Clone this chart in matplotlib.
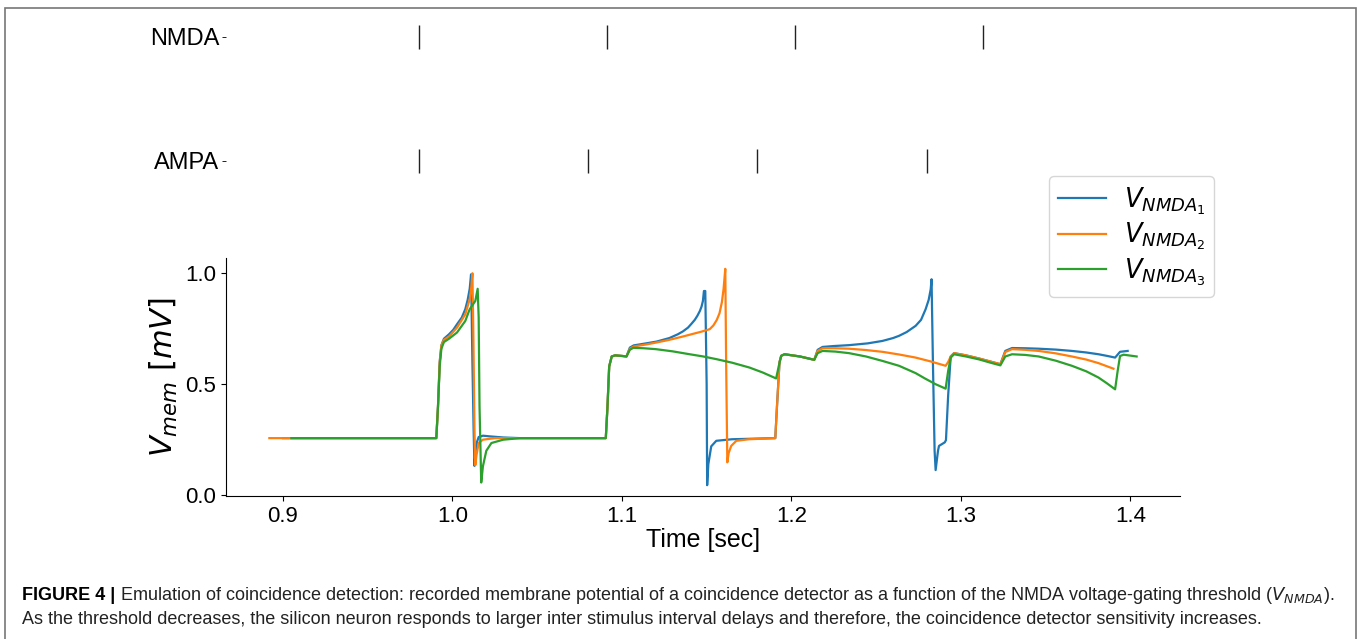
import matplotlib
matplotlib.use("Agg")
import matplotlib.pyplot as plt
from matplotlib.patches import Rectangle

# Stimulus times (sec)
nmda_events = [0.980, 1.091, 1.202, 1.313]
ampa_events = [0.980, 1.080, 1.180, 1.280]

# Membrane potential traces
t_1 = [0.900, 0.9905, 0.9915, 0.9925, 0.9935, 0.995, 0.998, 1.0005, 1.0027, 1.0055,
       1.0076, 1.009, 1.0102, 1.011, 1.0118, 1.0125, 1.013, 1.0135, 1.0145, 1.0155,
       1.018, 1.022, 1.030, 1.040, 1.0905, 1.0915, 1.0925, 1.094, 1.096, 1.1005,
       1.1027, 1.1047, 1.107, 1.115, 1.1204, 1.128, 1.133, 1.136, 1.139, 1.141,
       1.143, 1.1445, 1.146, 1.147, 1.1478, 1.1484, 1.1492, 1.1500, 1.1503, 1.151,
       1.1527, 1.1557, 1.165, 1.1905, 1.1915, 1.193, 1.194, 1.196, 1.205, 1.2135,
       1.2155, 1.2184, 1.225, 1.234, 1.245, 1.2537, 1.260, 1.2635, 1.268, 1.2733,
       1.2765, 1.2792, 1.281, 1.2822, 1.2827, 1.2835, 1.2845, 1.2851, 1.2865, 1.2871,
       1.2905, 1.2912, 1.2925, 1.294, 1.296, 1.303, 1.3106, 1.317, 1.3233, 1.3262,
       1.3302, 1.338, 1.3459, 1.356, 1.3655, 1.374, 1.3812, 1.386, 1.391, 1.3939,
       1.3984]
v_1 = [0.257, 0.257, 0.40, 0.60, 0.675, 0.705, 0.725, 0.745, 0.77, 0.80,
       0.838, 0.88, 0.93, 0.995, 0.60, 0.30, 0.132, 0.18, 0.24, 0.262,
       0.268, 0.265, 0.26, 0.257, 0.257, 0.40, 0.58, 0.625, 0.63, 0.627,
       0.625, 0.665, 0.675, 0.685, 0.692, 0.708, 0.725, 0.738, 0.755, 0.772,
       0.79, 0.808, 0.83, 0.85, 0.875, 0.92, 0.92, 0.50, 0.045, 0.14,
       0.22, 0.245, 0.252, 0.257, 0.40, 0.60, 0.628, 0.635, 0.625, 0.61,
       0.655, 0.668, 0.672, 0.676, 0.684, 0.695, 0.708, 0.718, 0.735, 0.763,
       0.79, 0.838, 0.88, 0.928, 0.973, 0.60, 0.20, 0.113, 0.20, 0.222,
       0.238, 0.248, 0.45, 0.625, 0.64, 0.63, 0.616, 0.603, 0.59, 0.65,
       0.663, 0.662, 0.66, 0.656, 0.65, 0.643, 0.635, 0.628, 0.62, 0.646,
       0.65]

t_2 = [0.892, 0.9905, 0.9915, 0.9925, 0.9935, 0.995, 0.998, 1.0027, 1.0076, 1.0102,
       1.0112, 1.0118, 1.0124, 1.013, 1.0135, 1.0142, 1.0155, 1.018, 1.025, 1.0905,
       1.0915, 1.0925, 1.094, 1.096, 1.1005, 1.1027, 1.1047, 1.107, 1.115, 1.1204,
       1.128, 1.136, 1.142, 1.147, 1.1518, 1.154, 1.156, 1.1576, 1.159, 1.160,
       1.161, 1.1615, 1.1622, 1.163, 1.1645, 1.1675, 1.175, 1.1905, 1.1915, 1.193,
       1.194, 1.196, 1.205, 1.2135, 1.2155, 1.2184, 1.226, 1.234, 1.244, 1.2537,
       1.2635, 1.2733, 1.282, 1.291, 1.2925, 1.294, 1.296, 1.303, 1.3106, 1.317,
       1.3233, 1.3262, 1.3302, 1.338, 1.3459, 1.356, 1.3655, 1.374, 1.3812, 1.390]
v_2 = [0.257, 0.257, 0.40, 0.60, 0.675, 0.70, 0.715, 0.755, 0.815, 0.883,
       0.94, 1.00, 0.70, 0.30, 0.135, 0.18, 0.235, 0.25, 0.257, 0.257,
       0.40, 0.58, 0.625, 0.63, 0.627, 0.625, 0.66, 0.67, 0.68, 0.688,
       0.70, 0.715, 0.727, 0.737, 0.748, 0.765, 0.79, 0.82, 0.87, 0.93,
       1.02, 0.60, 0.148, 0.19, 0.222, 0.245, 0.252, 0.257, 0.40, 0.60,
       0.628, 0.635, 0.625, 0.61, 0.65, 0.662, 0.662, 0.66, 0.654, 0.646,
       0.634, 0.62, 0.603, 0.583, 0.60, 0.625, 0.64, 0.63, 0.616, 0.603,
       0.59, 0.645, 0.658, 0.655, 0.65, 0.639, 0.625, 0.611, 0.595, 0.57]

t_3 = [0.905, 0.9905, 0.9915, 0.9925, 0.9935, 0.995, 0.998, 1.0027, 1.0076, 1.0102,
       1.0135, 1.0149, 1.0155, 1.016, 1.017, 1.018, 1.020, 1.023, 1.030, 1.040,
       1.0905, 1.0915, 1.0925, 1.094, 1.096, 1.1005, 1.1027, 1.1047, 1.1067, 1.113,
       1.12, 1.13, 1.14, 1.148, 1.1557, 1.165, 1.1753, 1.183, 1.191, 1.1925,
       1.194, 1.196, 1.205, 1.2135, 1.2155, 1.2184, 1.226, 1.234, 1.244, 1.2537,
       1.2635, 1.2733, 1.279, 1.2851, 1.291, 1.2925, 1.294, 1.296, 1.303, 1.3106,
       1.317, 1.3233, 1.3262, 1.3302, 1.338, 1.3459, 1.356, 1.3655, 1.374, 1.3812,
       1.386, 1.391, 1.3925, 1.3939, 1.396, 1.4037]
v_3 = [0.257, 0.257, 0.40, 0.58, 0.66, 0.69, 0.705, 0.733, 0.785, 0.838,
       0.875, 0.93, 0.80, 0.40, 0.057, 0.13, 0.20, 0.235, 0.25, 0.257,
       0.257, 0.40, 0.58, 0.625, 0.63, 0.627, 0.625, 0.655, 0.664, 0.662,
       0.658, 0.648, 0.635, 0.625, 0.613, 0.597, 0.575, 0.553, 0.526, 0.58,
       0.628, 0.635, 0.625, 0.61, 0.64, 0.65, 0.647, 0.64, 0.625, 0.605,
       0.583, 0.55, 0.525, 0.50, 0.48, 0.56, 0.62, 0.635, 0.625, 0.612,
       0.598, 0.585, 0.625, 0.635, 0.632, 0.625, 0.606, 0.583, 0.558, 0.53,
       0.505, 0.477, 0.56, 0.627, 0.633, 0.625]

series_labels = [r"$V_{NMDA_1}$", r"$V_{NMDA_2}$", r"$V_{NMDA_3}$"]
raster_labels = ["AMPA", "NMDA"]

caption_head = "FIGURE 4 |"
caption_1 = (r"Emulation of coincidence detection: recorded membrane potential of a coincidence "
             r"detector as a function of the NMDA voltage-gating threshold ($V_{NMDA}$).")
caption_2 = ("As the threshold decreases, the silicon neuron responds to larger inter stimulus "
             "interval delays and therefore, the coincidence detector sensitivity increases.")

plt.rcParams['font.family'] = ['Liberation Sans', 'DejaVu Sans']

W, H = 1358, 639
fig = plt.figure(figsize=(W / 100, H / 100), dpi=100)

# Raster of input spikes (created first so the legend of the trace axes sits on top)
ax_r = fig.add_axes([226 / W, 1 - 198 / H, (1180 - 226) / W, (198 - 6) / H])
ax_r.patch.set_visible(False)

# Main trace axes
ax = fig.add_axes([226 / W, 1 - 496 / H, (1180 - 226) / W, (496 - 258) / H])
ax.patch.set_visible(False)
colors = ['#1f77b4', '#ff7f0e', '#2ca02c']
for t, v, c, lab in zip([t_1, t_2, t_3], [v_1, v_2, v_3], colors, series_labels):
    ax.plot(t, v, color=c, lw=1.6, label=lab)
ax.spines['top'].set_visible(False)
ax.spines['right'].set_visible(False)
ax.set_xticks([0.9, 1.0, 1.1, 1.2, 1.3, 1.4])
ax.set_yticks([0.0, 0.5, 1.0])
ax.tick_params(labelsize=16)
ax.set_xlabel("Time [sec]", fontsize=18, labelpad=1)
ax.set_ylabel(r"$V_{mem}\ [mV]$", fontsize=22, labelpad=4)

ax.legend(loc='upper left', bbox_to_anchor=(1049 / W, 1 - 176 / H),
          bbox_transform=fig.transFigure, fontsize=18.5, handlelength=1.85,
          handletextpad=0.7, borderpad=0.35, labelspacing=0.15, borderaxespad=0)

ax_r.eventplot([ampa_events, nmda_events], lineoffsets=[0, 1], linelengths=0.19,
               colors='#222222', linewidths=1.0)
ax_r.set_xlim(ax.get_xlim())
ax_r.set_ylim(-0.3, 1.25)
ax_r.set_yticks([0, 1])
ax_r.set_yticklabels(raster_labels, fontsize=17)
for s in ax_r.spines.values():
    s.set_visible(False)
ax_r.tick_params(axis='x', bottom=False, labelbottom=False)
ax_r.tick_params(axis='y', length=3, width=0.6, pad=2)

# Frame and caption
fig.patches.append(Rectangle((5 / W, -0.05), (1356 - 5) / W, 1 - 8 / H + 0.05,
                             transform=fig.transFigure, fill=False,
                             edgecolor='#777777', lw=1.2))
head = fig.text(22 / W, 1 - 595 / H, caption_head, fontsize=13, fontweight='bold',
                va='center', ha='left')
fig.canvas.draw()
bb = head.get_window_extent()
fig.text((bb.x1 + 5) / W, 1 - 595 / H, caption_1, fontsize=13, va='center', ha='left',
         color='#222222')
fig.text(22 / W, 1 - 620 / H, caption_2, fontsize=13, va='center', ha='left',
         color='#222222')

fig.savefig("out.png", dpi=100)
